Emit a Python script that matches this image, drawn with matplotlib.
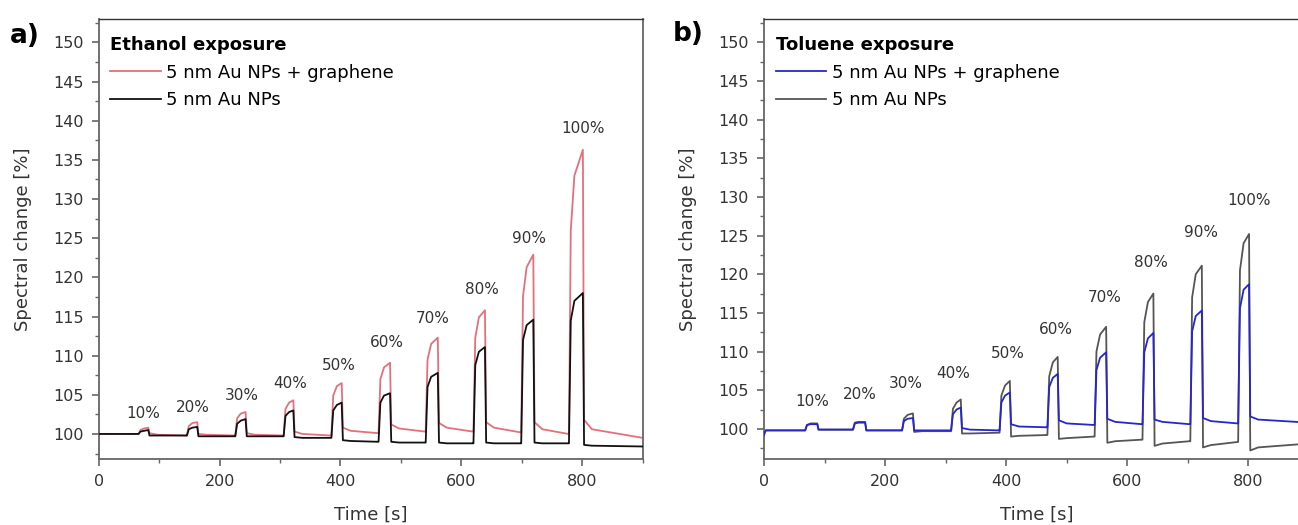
import numpy as np
import matplotlib
matplotlib.use("Agg")
import matplotlib.pyplot as plt
from matplotlib.ticker import MultipleLocator

plt.rcParams['font.family'] = ['DejaVu Sans']

# ---- data ----
labels = ['10%', '20%', '30%', '40%', '50%', '60%', '70%', '80%', '90%', '100%']

# panel a: ethanol
onset_a = [66, 146, 226, 306, 385, 463, 541, 620, 699, 778]
end_a = [82, 163, 243, 322, 402, 482, 561, 639, 719, 801]

peak_red = [100.8, 101.5, 102.8, 104.3, 106.5, 109.1, 112.3, 115.8, 122.9, 136.3]
knee_red = [100.5, 101.0, 102.0, 103.2, 104.9, 107.0, 109.5, 112.3, 117.6, 126.0]
mid_red = [100.7, 101.4, 102.6, 104.0, 106.1, 108.5, 111.5, 114.9, 121.3, 133.0]
post_red = [100.1, 100.0, 100.1, 100.3, 100.8, 101.2, 101.4, 101.5, 101.5, 101.8]
tail_red = [99.9, 99.9, 99.9, 100.0, 100.4, 100.7, 100.8, 100.8, 100.6, 100.6]
base_red = [99.8, 99.8, 99.8, 99.8, 100.1, 100.3, 100.3, 100.2, 100.0, 99.5]

peak_blk = [100.5, 100.9, 101.9, 103.0, 104.0, 105.2, 107.8, 111.1, 114.6, 118.0]
knee_blk = [100.3, 100.6, 101.3, 102.3, 103.0, 104.0, 106.0, 108.8, 112.0, 114.5]
mid_blk = [100.4, 100.8, 101.7, 102.8, 103.7, 104.9, 107.3, 110.5, 113.9, 117.0]
post_blk = [99.8, 99.7, 99.7, 99.6, 99.2, 99.0, 98.9, 98.9, 98.9, 98.6]
tail_blk = [99.8, 99.7, 99.7, 99.5, 99.1, 98.9, 98.8, 98.8, 98.8, 98.5]
base_blk = [99.8, 99.7, 99.7, 99.5, 99.0, 98.9, 98.8, 98.8, 98.8, 98.4]

lab_t_a = [73, 156, 236, 316, 397, 476, 553, 634, 712, 802]
lab_v_a = [102.6, 103.4, 104.9, 106.5, 108.7, 111.7, 114.8, 118.5, 125.0, 139.0]

# panel b: toluene
onset_b = [68, 147, 228, 309, 389, 468, 546, 625, 704, 783]
end_b = [88, 167, 246, 325, 406, 485, 565, 643, 723, 801]

peak_blue = [100.6, 100.8, 101.4, 102.75, 104.7, 107.1, 109.9, 112.4, 115.3, 118.7]
knee_blue = [100.5, 100.7, 101.0, 101.9, 103.4, 105.4, 107.6, 109.9, 112.6, 115.6]
mid_blue = [100.6, 100.8, 101.3, 102.5, 104.3, 106.6, 109.2, 111.7, 114.6, 118.0]
post_blue = [99.9, 99.8, 99.8, 100.1, 100.6, 101.1, 101.3, 101.2, 101.4, 101.6]
tail_blue = [99.9, 99.8, 99.8, 99.9, 100.3, 100.7, 100.9, 100.9, 101.0, 101.2]
base_blue = [99.9, 99.8, 99.8, 99.8, 100.2, 100.5, 100.6, 100.6, 100.7, 100.8]

peak_gray = [100.7, 100.9, 102.0, 103.8, 106.2, 109.3, 113.2, 117.5, 121.1, 125.2]
knee_gray = [100.5, 100.8, 101.3, 102.6, 104.3, 106.8, 110.0, 113.8, 117.0, 120.5]
mid_gray = [100.7, 100.9, 101.8, 103.4, 105.6, 108.6, 112.2, 116.4, 120.0, 124.0]
post_gray = [99.9, 99.8, 99.6, 99.4, 99.0, 98.7, 98.2, 97.8, 97.6, 97.2]
tail_gray = [99.9, 99.8, 99.7, 99.4, 99.1, 98.8, 98.4, 98.1, 97.9, 97.6]
base_gray = [99.9, 99.8, 99.7, 99.5, 99.2, 99.0, 98.6, 98.4, 98.3, 98.1]

lab_t_b = [79, 158, 235, 313, 403, 482, 562, 639, 721, 801]
lab_v_b = [103.6, 104.4, 105.9, 107.2, 109.7, 112.8, 117.0, 121.5, 125.4, 129.5]

# first seconds of each trace (t, value)
start_t = [0, 3]
start_a_red = [100.0, 100.0]
start_a_blk = [100.0, 100.0]
start_b_gray = [99.7, 99.8]
start_b_blue = [99.2, 99.8]


def trace(onset, end, start, knee, mid, peak, post, tail, base, tmax=900):
    # join the read values of each exposure cycle into one line
    t = list(start_t)
    v = list(start)
    prev = start[-1]
    for i in range(len(onset)):
        t += [onset[i], onset[i] + 3, onset[i] + 9, end[i], end[i] + 2, end[i] + 15]
        v += [prev, knee[i], mid[i], peak[i], post[i], tail[i]]
        nxt = onset[i + 1] - 1 if i + 1 < len(onset) else tmax
        t.append(nxt)
        v.append(base[i])
        prev = base[i]
    return t, v


W, H = 1298, 525
fig = plt.figure(figsize=(W / 100, H / 100), dpi=100)
ax1 = fig.add_axes([98.7 / W, 1 - 459 / H, 544 / W, 440 / H])
ax2 = fig.add_axes([764 / W, 1 - 459 / H, 545 / W, 440 / H])

spine_col = '#666666'
tick_fs = 11.5


def style(ax, ylo):
    ax.set_xlim(0, 900)
    ax.set_ylim(ylo, 153)
    ax.xaxis.set_major_locator(MultipleLocator(200))
    ax.xaxis.set_minor_locator(MultipleLocator(100))
    ax.yaxis.set_minor_locator(MultipleLocator(2.5))
    ax.set_yticks(np.arange(100, 151, 5))
    for s in ax.spines.values():
        s.set_color(spine_col)
        s.set_linewidth(1.3)
    ax.spines['top'].set_color('#333333')
    ax.spines['top'].set_linewidth(1.0)
    ax.tick_params(which='major', direction='out', length=5, width=1.2,
                   color=spine_col, labelsize=tick_fs, labelcolor='#333333', pad=6)
    ax.tick_params(which='minor', direction='out', length=3, width=1.0, color=spine_col)
    ax.tick_params(top=False, right=False, which='both')
    ax.set_xlabel('Time [s]', fontsize=13, color='#333333', labelpad=12)
    ax.set_ylabel('Spectral change [%]', fontsize=13, color='#333333', labelpad=15)


def legend(ax, title):
    h, l = ax.get_legend_handles_labels()
    order = [l.index('5 nm Au NPs + graphene'), l.index('5 nm Au NPs')]
    ax.legend([h[i] for i in order], [l[i] for i in order], title=title,
              loc='upper left', bbox_to_anchor=(-0.01, 1.0), frameon=False,
              fontsize=13, title_fontproperties={'weight': 'bold', 'size': 13},
              handlelength=2.8, handletextpad=0.3, labelspacing=0.52,
              borderaxespad=0.55, alignment='left')


# panel a
t, v = trace(onset_a, end_a, start_a_blk, knee_blk, mid_blk, peak_blk, post_blk, tail_blk, base_blk)
ax1.plot(t, v, color='#111111', lw=1.3, label='5 nm Au NPs', zorder=3)
t, v = trace(onset_a, end_a, start_a_red, knee_red, mid_red, peak_red, post_red, tail_red, base_red)
ax1.plot(t, v, color='#e3707c', lw=1.3, label='5 nm Au NPs + graphene', zorder=2)
style(ax1, 96.8)
for lt, lv, s in zip(lab_t_a, lab_v_a, labels):
    ax1.text(lt, lv, s, ha='center', va='center', fontsize=11, color='#333333')
legend(ax1, 'Ethanol exposure')

# panel b
t, v = trace(onset_b, end_b, start_b_gray, knee_gray, mid_gray, peak_gray, post_gray, tail_gray, base_gray)
ax2.plot(t, v, color='#555555', lw=1.3, label='5 nm Au NPs', zorder=2)
t, v = trace(onset_b, end_b, start_b_blue, knee_blue, mid_blue, peak_blue, post_blue, tail_blue, base_blue)
ax2.plot(t, v, color='#2626cc', lw=1.3, label='5 nm Au NPs + graphene', zorder=3)
style(ax2, 96.1)
for lt, lv, s in zip(lab_t_b, lab_v_b, labels):
    ax2.text(lt, lv, s, ha='center', va='center', fontsize=11, color='#333333')
legend(ax2, 'Toluene exposure')

fig.text(25 / W, 1 - 36 / H, 'a)', fontsize=19, fontweight='bold', ha='center', va='center')
fig.text(688 / W, 1 - 34 / H, 'b)', fontsize=19, fontweight='bold', ha='center', va='center')

fig.savefig('out.png', dpi=100)
